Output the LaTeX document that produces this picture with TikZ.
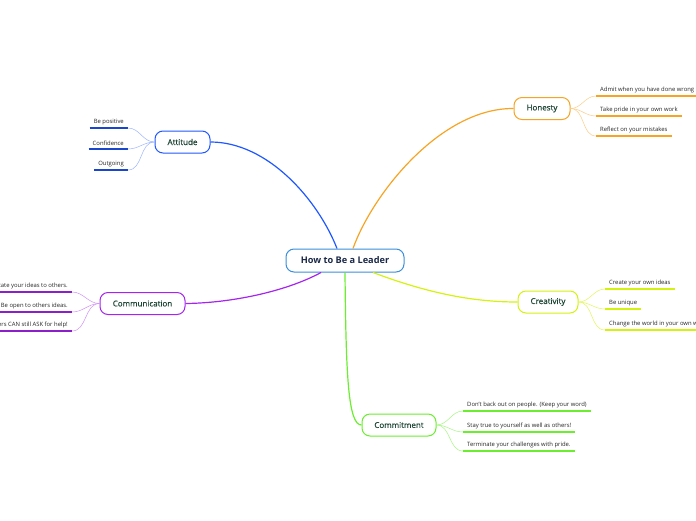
\documentclass[tikz,border=0pt]{standalone}
\usepackage{fontspec}
\setmainfont{Open Sans}
\newfontfamily\topicfont[FakeBold=0.6]{Open Sans}
\usepackage{xcolor}
\usepackage{tikz}
\usetikzlibrary{calc}

\definecolor{leadblue}{HTML}{3A8EDB}
\definecolor{attblue}{HTML}{2058FF}
\definecolor{honorange}{HTML}{F7A323}
\definecolor{creyellow}{HTML}{D4F20F}
\definecolor{comgreen}{HTML}{6AEE2E}
\definecolor{compurple}{HTML}{A524EE}
\definecolor{topictext}{HTML}{1E4636}
\definecolor{leadtext}{HTML}{1B2A48}

\begin{document}
\begin{tikzpicture}[x=1pt, y=-1pt,
	topic/.style={draw, line width=1pt, rounded corners=8pt, fill=white, minimum height=22pt,
		inner xsep=12pt, text=topictext, font=\topicfont\fontsize{8}{9}\selectfont},
	leaf/.style={inner xsep=4pt, inner ysep=3pt, text=black!85, font=\fontsize{5.9}{6.8}\selectfont},
	ul/.style={line width=1.4pt},
	twig/.style={line width=0.5pt}]

	% 1. 画布大小
	\useasboundingbox (0,0) rectangle (696,520);
	\clip (0,0) rectangle (696,520);

	% 2. 中心主题与五个分支
	\node[topic, draw=leadblue, text=leadtext, minimum width=118pt, minimum height=23pt,
		font=\fontsize{9.2}{10}\selectfont\bfseries] (Lead) at (345,260.5) {How to Be a Leader};
	\node[topic, draw=attblue, minimum width=55pt] (Att) at (182.5,142) {Attitude};
	\node[topic, draw=honorange, minimum width=56pt] (Hon) at (542,108.5) {Honesty};
	\node[topic, draw=creyellow, minimum width=60pt] (Cre) at (548,302) {Creativity};
	\node[topic, draw=comgreen, minimum width=74pt] (Comm) at (399,425) {Commitment};
	\node[topic, draw=compurple, minimum width=85pt] (Com) at (142.5,303.5) {Communication};

	% 3. 中心到分支的曲线
	\draw[attblue, line width=1.2pt] (Att.east) .. controls (268,142) and (318,200) .. ($(Lead.north)+(-8,0)$);
	\draw[honorange, line width=1.2pt] ($(Lead.north)+(8,0)$) .. controls (372,195) and (440,108) .. (Hon.west);
	\draw[creyellow, line width=1.2pt] ($(Lead.south)+(28,0)$) .. controls (425,292) and (470,302) .. (Cre.west);
	\draw[comgreen, line width=1.2pt] (Lead.south) .. controls (346,375) and (348,425) .. (Comm.west);
	\draw[compurple, line width=1.2pt] ($(Lead.south)+(-24,0)$) .. controls (285,292) and (230,303) .. (Com.east);

	% 4. Attitude 的叶子 (左侧)
	\node[leaf, anchor=south east] (a1) at (128,128) {Be positive};
	\node[leaf, anchor=south east] (a2) at (128,149) {Confidence};
	\node[leaf, anchor=south east] (a3) at (128,170) {Outgoing};
	\foreach \n in {a1,a2,a3} {
		\draw[ul, attblue!80!black] (\n.south west) -- (\n.south east);
		\draw[twig, attblue!45] (Att.west) to[out=180, in=0] (\n.south east);
	}

	% 5. Honesty 的叶子
	\node[leaf, anchor=south west] (h1) at (596,96) {Admit when you have done wrong};
	\node[leaf, anchor=south west] (h2) at (596,116) {Take pride in your own work};
	\node[leaf, anchor=south west] (h3) at (596,136) {Reflect on your mistakes};
	\foreach \n in {h1,h2,h3} {
		\draw[ul, honorange] (\n.south west) -- (\n.south east);
		\draw[twig, honorange!55] (Hon.east) to[out=0, in=180] (\n.south west);
	}

	% 6. Creativity 的叶子
	\node[leaf, anchor=south west] (c1) at (605,289) {Create your own ideas};
	\node[leaf, anchor=south west] (c2) at (605,309) {Be unique};
	\node[leaf, anchor=south west] (c3) at (605,330) {Change the world in your own way};
	\foreach \n in {c1,c2,c3} {
		\draw[ul, creyellow] (\n.south west) -- (\n.south east);
		\draw[twig, creyellow!70] (Cre.east) to[out=0, in=180] (\n.south west);
	}

	% 7. Commitment 的叶子
	\node[leaf, anchor=south west] (m1) at (463,411) {Don't back out on people. (Keep your word)};
	\node[leaf, anchor=south west] (m2) at (463,432) {Stay true to yourself as well as others!};
	\node[leaf, anchor=south west] (m3) at (463,451) {Terminate your challenges with pride.};
	\foreach \n in {m1,m2,m3} {
		\draw[ul, comgreen] (\n.south west) -- (\n.south east);
		\draw[twig, comgreen!60] (Comm.east) to[out=0, in=180] (\n.south west);
	}

	% 8. Communication 的叶子 (左侧, 被画布裁掉一部分)
	\node[leaf, anchor=south east] (k1) at (72,292) {Communicate your ideas to others.};
	\node[leaf, anchor=south east] (k2) at (72,312) {Be open to others ideas.};
	\node[leaf, anchor=south east] (k3) at (72,331) {Leaders CAN still ASK for help!};
	\foreach \n in {k1,k2,k3} {
		\draw[ul, compurple!85!black] (\n.south west) -- (\n.south east);
		\draw[twig, compurple!50] (Com.west) to[out=180, in=0] (\n.south east);
	}

\end{tikzpicture}
\end{document}
